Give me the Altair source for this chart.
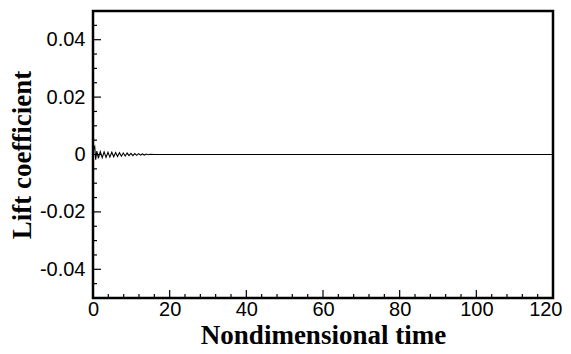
import altair as alt
import pandas as pd

# Lift coefficient history
time = [0.0, 0.2, 0.45, 0.7, 1.0, 1.4, 1.9, 2.4, 2.9, 3.4, 3.9, 4.4, 4.9, 5.4, 5.9,
        6.4, 6.9, 7.4, 7.9, 8.4, 8.9, 9.4, 9.9, 10.4, 10.9, 11.4, 11.9, 12.4, 12.9,
        13.4, 13.9, 14.4, 14.9, 16.0, 20.0, 40.0, 60.0, 80.0, 100.0, 120.0]
lift = [0.0, 0.0022, 0.0028, -0.0018, 0.0012, -0.0013, 0.0010, -0.0011, 0.0009,
        -0.0010, 0.0008, -0.0009, 0.0008, -0.0008, 0.0007, -0.0007, 0.0006, -0.0006,
        0.0005, -0.0005, 0.0005, -0.0004, 0.0004, -0.0004, 0.0003, -0.0003, 0.0003,
        -0.0002, 0.0002, -0.0002, 0.00015, -0.0001, 0.0001, 0.0, 0.0, 0.0, 0.0, 0.0,
        0.0, 0.0]

x_major = [0, 20, 40, 60, 80, 100, 120]
x_minor = [4, 8, 12, 16, 24, 28, 32, 36, 44, 48, 52, 56, 64, 68, 72, 76, 84, 88,
           92, 96, 104, 108, 112, 116]
y_major = [-0.04, -0.02, 0.0, 0.02, 0.04]
y_minor = [-0.045, -0.035, -0.03, -0.025, -0.015, -0.01, -0.005, 0.005, 0.01,
           0.015, 0.025, 0.03, 0.035, 0.045]

xs = alt.Scale(domain=[0, 120], nice=False, zero=False)
ys = alt.Scale(domain=[-0.05, 0.05], nice=False, zero=False)

df = pd.DataFrame({"t": time, "cl": lift})

line = alt.Chart(df).mark_line(color="black", strokeWidth=1.1).encode(
    x=alt.X("t:Q", scale=xs, title="Nondimensional time",
            axis=alt.Axis(values=x_major, format="d", tickSize=0, domain=False,
                          grid=False, labelFontSize=20, labelFont="Liberation Sans",
                          labelColor="black", labelPadding=1, labelFlush=False,
                          labelAlign={"expr": "datum.value == 120 ? 'right' : 'center'"},
                          labelOffset={"expr": "datum.value == 120 ? 9 : 0"},
                          titleFont="Liberation Serif", titleFontSize=27,
                          titleFontWeight="bold", titleColor="black", titlePadding=3)),
    y=alt.Y("cl:Q", scale=ys, title="Lift coefficient",
            axis=alt.Axis(values=y_major, tickSize=0, domain=False, grid=False,
                          labelExpr="datum.value == 0 ? '0' : replace(format(datum.value, '.2f'), '\u2212', '-')",
                          labelFontSize=20, labelFont="Liberation Sans",
                          labelColor="black", labelPadding=8, labelFlush=False,
                          titleFont="Liberation Serif", titleFontSize=27,
                          titleFontWeight="bold", titleColor="black", titlePadding=3)),
)

def xticks(vals, length):
    return alt.Chart(pd.DataFrame({"v": vals})).mark_rule(color="black", strokeWidth=1.2).encode(
        x=alt.X("v:Q", scale=xs),
        y=alt.value(287), y2=alt.value(287 - length))

def yticks(vals, length):
    return alt.Chart(pd.DataFrame({"v": vals})).mark_rule(color="black", strokeWidth=1.2).encode(
        y=alt.Y("v:Q", scale=ys),
        x=alt.value(0), x2=alt.value(length))

chart = alt.layer(
    xticks(x_major, 8), xticks(x_minor, 4), yticks(y_major, 8), yticks(y_minor, 4), line
).properties(
    width=460, height=287,
    autosize=alt.AutoSizeParams(type="none"),
    padding={"left": 85, "top": 3, "right": 10, "bottom": 51},
).configure(background="white").configure_view(stroke="black", strokeWidth=2.5)

chart.save("out.html", embed_options={"renderer": "svg", "actions": False})
